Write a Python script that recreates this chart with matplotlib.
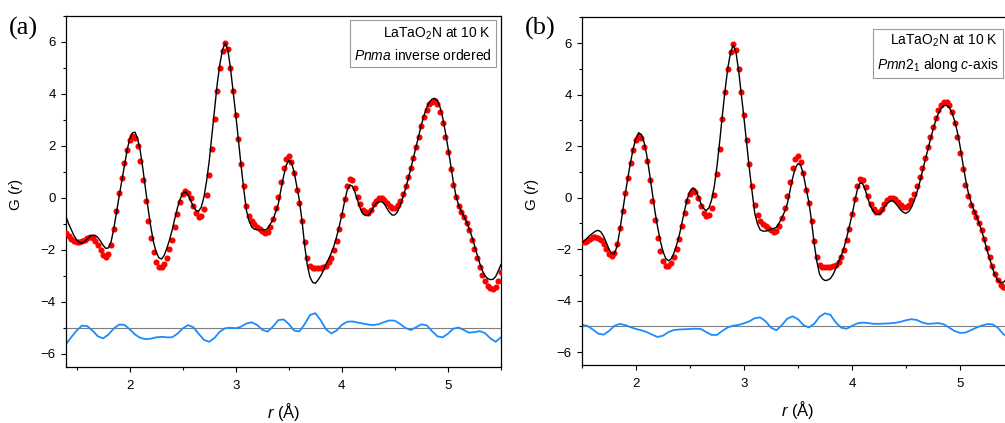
import numpy as np
import matplotlib
matplotlib.use("Agg")
import matplotlib.pyplot as plt
from matplotlib.ticker import MultipleLocator

plt.rcParams["font.family"] = ["Liberation Sans", "DejaVu Sans"]
plt.rcParams["mathtext.fontset"] = "custom"
plt.rcParams["mathtext.rm"] = "Liberation Sans"
plt.rcParams["mathtext.it"] = "Liberation Sans:italic"

# --- dados ---
# G(r) observado (mesmo conjunto nos dois painéis), r = 1.400 ... 5.500, passo 0.025
R0_OBS, PASSO = 1.4, 0.025
g_obs = [
    -1.34, -1.47, -1.58, -1.66, -1.71, -1.71, -1.67, -1.60,
    -1.54, -1.52, -1.55, -1.64, -1.80, -2.00, -2.18, -2.26,
    -2.16, -1.80, -1.18, -0.50, 0.18, 0.75, 1.35, 1.85,
    2.22, 2.38, 2.30, 1.98, 1.42, 0.68, -0.12, -0.88,
    -1.55, -2.08, -2.45, -2.64, -2.67, -2.55, -2.30, -1.98,
    -1.60, -1.10, -0.60, -0.15, 0.15, 0.28, 0.20, -0.02,
    -0.32, -0.58, -0.72, -0.68, -0.42, 0.12, 0.90, 1.90,
    3.05, 4.10, 5.00, 5.65, 5.95, 5.72, 5.00, 4.10,
    3.20, 2.25, 1.30, 0.45, -0.30, -0.68, -0.90, -1.02,
    -1.10, -1.18, -1.27, -1.34, -1.30, -1.10, -0.80, -0.40,
    0.05, 0.60, 1.15, 1.50, 1.60, 1.40, 0.95, 0.30,
    -0.20, -0.90, -1.70, -2.30, -2.60, -2.70, -2.71, -2.71,
    -2.69, -2.66, -2.60, -2.48, -2.30, -2.02, -1.65, -1.20,
    -0.65, -0.05, 0.45, 0.72, 0.68, 0.40, 0.05, -0.25,
    -0.45, -0.55, -0.56, -0.45, -0.25, -0.10, -0.02, 0.00,
    -0.07, -0.18, -0.30, -0.37, -0.37, -0.28, -0.10, 0.15,
    0.45, 0.80, 1.15, 1.55, 1.95, 2.35, 2.75, 3.10,
    3.40, 3.60, 3.70, 3.72, 3.60, 3.32, 2.88, 2.35,
    1.75, 1.10, 0.50, 0.05, -0.30, -0.55, -0.75, -0.98,
    -1.25, -1.60, -1.95, -2.30, -2.65, -2.95, -3.20, -3.38,
    -3.48, -3.50, -3.42, -3.18, -2.85,
]

# (a) Pnma inverse ordered, calculado, r = 1.400 ... 5.500
g_calc_a = [
    -0.72, -1.00, -1.23, -1.45, -1.61, -1.71, -1.74, -1.68,
    -1.58, -1.48, -1.43, -1.44, -1.52, -1.66, -1.82, -1.94,
    -1.92, -1.68, -1.18, -0.58, 0.05, 0.65, 1.23, 1.82,
    2.27, 2.50, 2.53, 2.28, 1.80, 1.10, 0.31, -0.45,
    -1.14, -1.70, -2.09, -2.30, -2.35, -2.21, -1.94, -1.62,
    -1.24, -0.80, -0.38, -0.05, 0.17, 0.23, 0.12, -0.10,
    -0.33, -0.48, -0.51, -0.35, 0.04, 0.65, 1.43, 2.42,
    3.43, 4.38, 5.14, 5.70, 5.95, 5.70, 4.99, 4.10,
    3.20, 2.22, 1.25, 0.35, -0.47, -0.88, -1.12, -1.20,
    -1.22, -1.22, -1.22, -1.23, -1.18, -1.00, -0.85, -0.55,
    -0.25, 0.30, 0.82, 1.25, 1.45, 1.35, 1.00, 0.45,
    -0.10, -0.90, -1.85, -2.60, -3.05, -3.25, -3.28, -3.16,
    -3.00, -2.80, -2.55, -2.35, -2.12, -1.85, -1.50, -1.10,
    -0.65, -0.15, 0.30, 0.50, 0.45, 0.20, -0.12, -0.42,
    -0.62, -0.68, -0.66, -0.52, -0.33, -0.20, -0.15, -0.14,
    -0.23, -0.40, -0.56, -0.66, -0.65, -0.53, -0.28, 0.02,
    0.35, 0.73, 1.13, 1.55, 1.98, 2.40, 2.82, 3.18,
    3.48, 3.68, 3.80, 3.83, 3.75, 3.50, 3.10, 2.55,
    1.95, 1.28, 0.63, 0.10, -0.28, -0.50, -0.70, -0.92,
    -1.18, -1.48, -1.82, -2.18, -2.52, -2.80, -3.00, -3.10,
    -3.14, -3.13, -3.02, -2.80, -2.56,
]

# (b) Pmn2_1 along c-axis, calculado, r = 1.500 ... 5.450
R0_CALC_B = 1.5
g_calc_b = [
    -1.75, -1.66, -1.56, -1.46, -1.38, -1.30, -1.27, -1.33,
    -1.50, -1.75, -2.00, -2.17, -2.18, -1.88, -1.28, -0.58,
    0.13, 0.78, 1.38, 1.92, 2.32, 2.52, 2.45, 2.15,
    1.64, 0.95, 0.20, -0.52, -1.14, -1.68, -2.09, -2.36,
    -2.45, -2.38, -2.16, -1.85, -1.48, -0.98, -0.49, -0.05,
    0.25, 0.37, 0.29, 0.07, -0.22, -0.42, -0.50, -0.40,
    -0.09, 0.45, 1.23, 2.18, 3.22, 4.18, 5.04, 5.62,
    5.92, 5.65, 4.94, 4.00, 3.08, 2.08, 1.10, 0.22,
    -0.62, -1.02, -1.25, -1.30, -1.30, -1.27, -1.22, -1.20,
    -1.15, -0.98, -0.80, -0.55, -0.25, 0.25, 0.76, 1.15,
    1.32, 1.25, 0.90, 0.35, -0.16, -0.90, -1.80, -2.50,
    -2.98, -3.15, -3.22, -3.20, -3.14, -2.98, -2.75, -2.50,
    -2.25, -1.95, -1.56, -1.12, -0.67, -0.15, 0.33, 0.58,
    0.53, 0.26, -0.08, -0.37, -0.55, -0.64, -0.64, -0.55,
    -0.36, -0.22, -0.14, -0.12, -0.21, -0.34, -0.48, -0.57,
    -0.61, -0.54, -0.38, -0.13, 0.20, 0.56, 1.00, 1.42,
    1.85, 2.25, 2.64, 3.00, 3.27, 3.47, 3.57, 3.58,
    3.50, 3.30, 2.98, 2.55, 2.00, 1.35, 0.74, 0.22,
    -0.15, -0.45, -0.70, -0.98, -1.28, -1.65, -2.04, -2.38,
    -2.73, -3.02, -3.22, -3.30, -3.28, -3.20, -3.08,
]

# diferença (obs - calc) deslocada para -5, passo 0.05
PASSO_DIF = 0.05
g_dif_a = [  # r = 1.40 ... 5.50
    -5.62, -5.35, -5.10, -4.91, -4.93, -5.10, -5.32, -5.40, -5.25, -5.02,
    -4.87, -4.88, -5.05, -5.25, -5.38, -5.43, -5.41, -5.36, -5.34, -5.36,
    -5.36, -5.22, -5.02, -4.89, -4.97, -5.22, -5.46, -5.53, -5.38, -5.14,
    -5.01, -4.99, -5.01, -4.95, -4.83, -4.78, -4.88, -5.07, -5.14, -4.95,
    -4.70, -4.67, -4.85, -5.10, -5.13, -4.85, -4.50, -4.43, -4.70, -5.05,
    -5.21, -5.10, -4.88, -4.76, -4.75, -4.79, -4.83, -4.87, -4.89, -4.85,
    -4.77, -4.71, -4.72, -4.85, -5.00, -5.08, -4.97, -4.86, -4.90, -5.12,
    -5.32, -5.36, -5.22, -5.03, -4.98, -5.08, -5.18, -5.16, -5.12, -5.20,
    -5.40, -5.53, -5.36,
]
g_dif_b = [  # r = 1.50 ... 5.45
    -4.94, -4.98, -5.12, -5.28, -5.32, -5.18, -4.98, -4.90, -4.95, -5.03,
    -5.10, -5.15, -5.22, -5.32, -5.41, -5.36, -5.22, -5.14, -5.12, -5.11,
    -5.10, -5.09, -5.10, -5.22, -5.33, -5.33, -5.17, -5.04, -4.97, -4.94,
    -4.88, -4.80, -4.68, -4.65, -4.80, -5.05, -5.15, -4.95, -4.70, -4.61,
    -4.72, -4.95, -5.04, -4.90, -4.62, -4.49, -4.55, -4.85, -5.05, -5.09,
    -4.98, -4.88, -4.85, -4.87, -4.90, -4.90, -4.89, -4.88, -4.86, -4.82,
    -4.76, -4.72, -4.75, -4.85, -4.90, -4.89, -4.87, -4.92, -5.05, -5.18,
    -5.25, -5.24, -5.15, -5.05, -4.97, -4.91, -4.92, -5.05, -5.30, -5.42,
]

TEXTO_A = "LaTaO$_2$N at 10 K\n$\\mathit{Pnma}$ inverse ordered"
TEXTO_B = "LaTaO$_2$N at 10 K\n$\\mathit{Pmn}$2$_1$ along $\\mathit{c}$-axis"


def grade(r0, passo, n):
    return np.round(r0 + passo * np.arange(n), 3)


def desenhar_painel(ax, r_obs, obs, r_calc, calc, r_dif, dif, xlim, texto, pos_txt):
    ax.axhline(-5, color="#7f7f7f", lw=0.8, zorder=1)
    ax.plot(r_dif, dif, color="#1a8cff", lw=1.3, zorder=2)
    ax.plot(r_obs, obs, "o", color="red", ms=4.4, mew=0, zorder=3)
    ax.plot(r_calc, calc, color="black", lw=1.0, zorder=4)

    ax.set_xlim(*xlim)
    ax.set_ylim(-6.5, 7)
    ax.xaxis.set_major_locator(MultipleLocator(1))
    ax.xaxis.set_minor_locator(MultipleLocator(0.5))
    ax.yaxis.set_major_locator(MultipleLocator(2))
    ax.yaxis.set_minor_locator(MultipleLocator(1))
    ax.tick_params(which="both", direction="out", top=False, right=False,
                   labelsize=9.5, width=0.8)
    ax.tick_params(which="major", length=3.5)
    ax.tick_params(which="minor", length=2.5)
    ax.tick_params(axis="x", pad=6)
    ax.tick_params(axis="y", pad=4)
    for s in ax.spines.values():
        s.set_linewidth(0.9)

    ax.set_ylabel("G ($\\mathit{r}$)", fontsize=11)
    ax.set_xlabel("$\\mathit{r}$ (Å)", fontsize=12)
    ax.yaxis.set_label_coords(-0.094, 0.49)
    ax.xaxis.set_label_coords(0.5, -0.098)

    ax.text(pos_txt[0], pos_txt[1], texto, transform=ax.transAxes,
            ha="right", va="top", ma="right", fontsize=10, linespacing=1.5,
            bbox=dict(boxstyle="square,pad=0.3", fc="white", ec="#9a9a9a", lw=0.8),
            zorder=5)


fig = plt.figure(figsize=(10.05, 4.23), dpi=100)
ax_a = fig.add_axes([0.0657, 0.1324, 0.4328, 0.830])
ax_b = fig.add_axes([0.5791, 0.137, 0.4299, 0.822])

r_obs = grade(R0_OBS, PASSO, len(g_obs))
r_calc_b = grade(R0_CALC_B, PASSO, len(g_calc_b))
r_dif_a = grade(1.4, PASSO_DIF, len(g_dif_a))
r_dif_b = grade(1.5, PASSO_DIF, len(g_dif_b))

desenhar_painel(ax_a, r_obs, g_obs, r_obs, g_calc_a, r_dif_a, g_dif_a,
                (1.4, 5.5), TEXTO_A, (0.978, 0.972))
desenhar_painel(ax_b, r_obs, g_obs, r_calc_b, g_calc_b, r_dif_b, g_dif_b,
                (1.5, 5.5), TEXTO_B, (0.964, 0.955))

fig.text(0.009, 0.96, "(a)", family="Liberation Serif", fontsize=19, va="top")
fig.text(0.522, 0.96, "(b)", family="Liberation Serif", fontsize=19, va="top")

fig.savefig("out.png", dpi=100)
